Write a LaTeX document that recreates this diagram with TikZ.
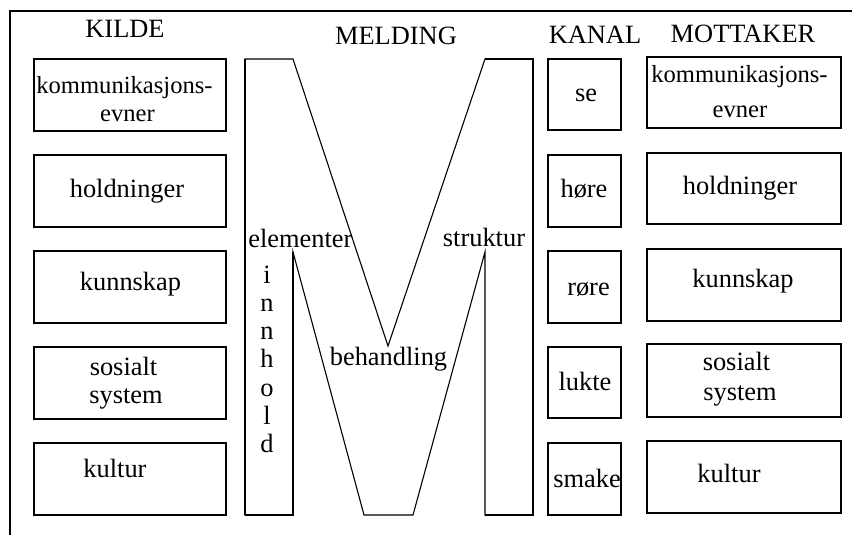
\documentclass[tikz,border=0pt]{standalone}
\usepackage{fontspec}
\setmainfont{Liberation Serif}
\begin{document}
\begin{tikzpicture}[x=0.5pt,y=-0.5pt,
  txt/.style={inner sep=0pt,anchor=base,font=\fontsize{13.2}{15}\selectfont},
  sml/.style={inner sep=0pt,anchor=base,font=\fontsize{12.3}{14}\selectfont},
  boxline/.style={line width=1.2pt},
  thinline/.style={line width=0.55pt}]
\useasboundingbox (0,0) rectangle (852,535);
% frame
\draw[line width=1.2pt] (10,535) -- (10,11) -- (852,11);
% headers
\node[txt] (hkilde) at (125,38) {KILDE};
\node[txt] (hmeld) at (396,45) {MELDING};
\node[txt] (hkanal) at (595,44) {KANAL};
\node[txt] (hmott) at (743,43) {MOTTAKER};
% KILDE boxes
\draw[boxline] (34,59) rectangle (226,131);
\draw[boxline] (34,155) rectangle (226,227);
\draw[boxline] (34,251) rectangle (226,323);
\draw[boxline] (34,347) rectangle (226,419);
\draw[boxline] (34,443) rectangle (226,515);
\node[sml] (k1a) at (124.5,94) {kommunikasjons-};
\node[sml] (k1b) at (127.5,122) {evner};
\node[txt] (k2) at (127,198) {holdninger};
\node[txt] (k3) at (130.5,290) {kunnskap};
\node[txt] (k4a) at (123.5,375) {sosialt};
\node[txt] (k4b) at (126,403) {system};
\node[txt] (k5) at (115,477) {kultur};
% KANAL boxes
\draw[boxline] (548,59) rectangle (621,130);
\draw[boxline] (548,155) rectangle (621,227);
\draw[boxline] (548,251) rectangle (621,323);
\draw[boxline] (548,347) rectangle (621,418);
\draw[boxline] (548,443) rectangle (621,515);
\node[txt] (c1) at (586,102) {se};
\node[txt] (c2) at (584,198) {høre};
\node[txt] (c3) at (588.5,295) {røre};
\node[txt] (c4) at (585,390) {lukte};
\node[txt] (c5) at (587,487) {smake};
% MOTTAKER boxes
\draw[boxline] (647,57) rectangle (841,128);
\draw[boxline] (647,153) rectangle (841,224);
\draw[boxline] (647,249) rectangle (841,321);
\draw[boxline] (647,344) rectangle (841,417);
\draw[boxline] (647,441) rectangle (841,513);
\node[sml] (m1a) at (739.5,83) {kommunikasjons-};
\node[sml] (m1b) at (740,118) {evner};
\node[txt] (m2) at (740,195) {holdninger};
\node[txt] (m3) at (743,287) {kunnskap};
\node[txt] (m4a) at (736.5,370) {sosialt};
\node[txt] (m4b) at (740,400) {system};
\node[txt] (m5) at (729,482) {kultur};
% M shape
\draw[thinline,line join=miter] (245,59) -- (293,59) -- (388,346) -- (485,59) -- (533,59)
  -- (533,515) -- (485,515) -- (485,252) -- (413,515) -- (364,515) -- (293,252)
  -- (293,515) -- (245,515) -- cycle;
\draw[boxline] (245,515) -- (245,59);
\draw[boxline] (293,252) -- (293,515) -- (245,515);
\draw[boxline] (485,59) -- (533,59) -- (533,515) -- (485,515);
% M texts
\node[txt,anchor=base west] (elem) at (248,248) {elementer};
\node[txt] (strukt) at (484,247) {struktur};
\node[txt] (behand) at (388.5,365) {behandling};
\foreach \l [count=\i from 0] in {i,n,n,h,o,l,d} {
  \node[txt] (inn\i) at (267,283+28.3*\i) {\l};
}
\end{tikzpicture}
\end{document}
